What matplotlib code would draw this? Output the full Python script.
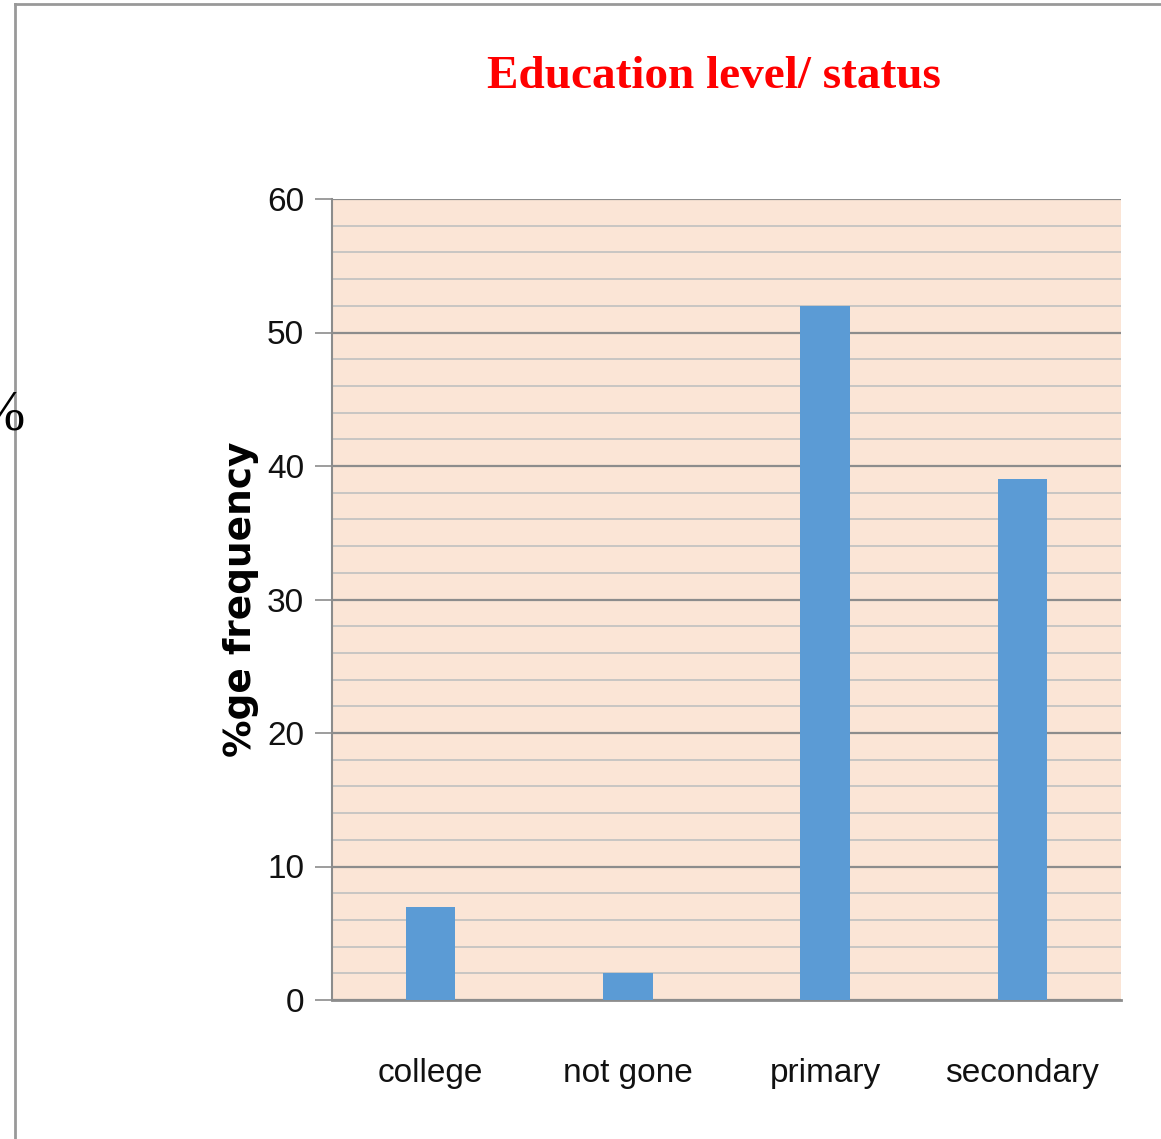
import matplotlib
matplotlib.use("Agg")
import matplotlib.pyplot as plt
from matplotlib.lines import Line2D

categories = ["college", "not gone", "primary", "secondary"]
values = [7, 2, 52, 39]
yticks = [0, 10, 20, 30, 40, 50, 60]

W, H = 1161, 1139
fig = plt.figure(figsize=(W / 100, H / 100), dpi=100)

tickfont = "Liberation Sans"

ax = fig.add_axes([332 / W, 1 - 1000 / H, (1121 - 332) / W, (1000 - 199) / H])
ax.set_facecolor("#FBE5D6")
x = list(range(len(categories)))
ax.bar(x, values, width=0.25, color="#5B9BD5", zorder=3)
ax.set_xlim(-0.5, 3.5)
ax.set_ylim(0, 60)
ax.set_yticks(yticks)
ax.set_yticks([v for v in range(0, 61, 2) if v % 10], minor=True)
ax.yaxis.grid(True, which="major", color="#8c8c8c", lw=1.6, zorder=1)
ax.yaxis.grid(True, which="minor", color="#c0c0c0", lw=1.2, zorder=1)
ax.tick_params(axis="y", which="major", length=12, width=1.2, color="#8c8c8c", pad=8)
ax.tick_params(axis="y", which="minor", length=0)
ax.tick_params(axis="x", length=0, pad=42)
ax.set_xticks(x)
ax.set_xticklabels(categories, fontsize=24, family=tickfont, color="#111111")
for t in ax.get_yticklabels():
    t.set_fontsize(24)
    t.set_family(tickfont)
    t.set_color("#111111")
for s in ["top", "right"]:
    ax.spines[s].set_visible(False)
ax.spines["left"].set_color("#8c8c8c")
ax.spines["left"].set_linewidth(1.5)
ax.spines["bottom"].set_color("#8c8c8c")
ax.spines["bottom"].set_linewidth(2)
ax.set_ylabel("%ge frequency", fontsize=27, fontweight="heavy", family="DejaVu Sans",
              labelpad=6)

fig.text(714 / W, 1 - 77 / H, "Education level/ status", color="#FF0000",
         fontsize=34, fontweight="bold", family="Liberation Serif",
         ha="center", va="center")
fig.text(-22 / W, 1 - 416 / H, "%", fontsize=40, family="Liberation Serif",
         ha="left", va="center", color="black")

fig.add_artist(Line2D([15 / W, 1], [1 - 4 / H, 1 - 4 / H], color="#999999", lw=2,
                      transform=fig.transFigure))
fig.add_artist(Line2D([15 / W, 15 / W], [1 - 4 / H, 0], color="#999999", lw=2,
                      transform=fig.transFigure))

fig.savefig("out.png", dpi=100)
